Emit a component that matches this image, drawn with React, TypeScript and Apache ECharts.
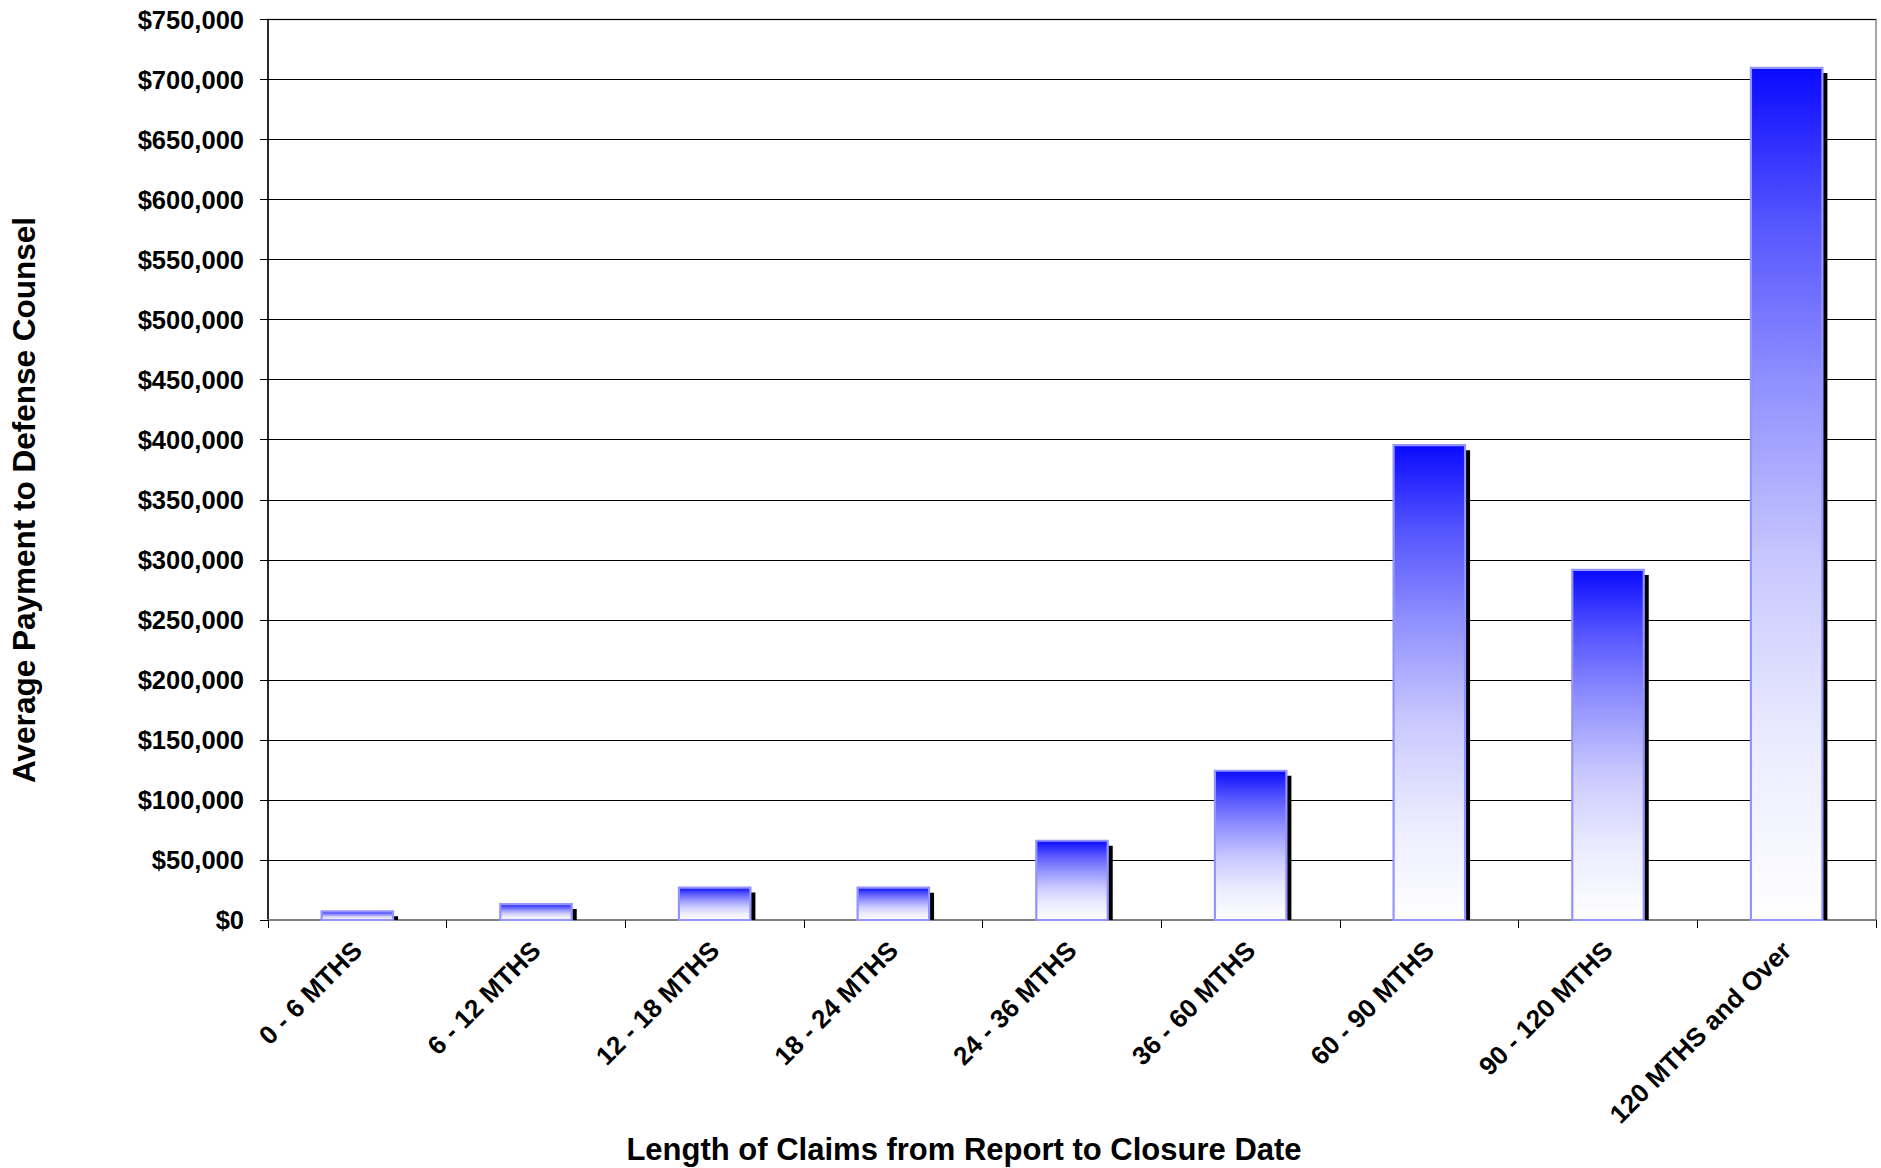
import React, { useEffect, useRef } from "react";
import * as echarts from "echarts";

const categories = [
  "0 - 6 MTHS",
  "6 - 12 MTHS",
  "12 - 18 MTHS",
  "18 - 24 MTHS",
  "24 - 36 MTHS",
  "36 - 60 MTHS",
  "60 - 90 MTHS",
  "90 - 120 MTHS",
  "120 MTHS and Over",
];
const payments = [7200, 13300, 27000, 26900, 66000, 124300, 395500, 291600, 709700];

const yMin = 0;
const yMax = 750000;
const yInterval = 50000;

const xTitle = "Length of Claims from Report to Closure Date";
const yTitle = "Average Payment to Defense Counsel";

const FONT = "'Liberation Sans', Arial, sans-serif";

export default function App() {
  const ref = useRef<HTMLDivElement>(null);
  useEffect(() => {
    if (!ref.current) return;
    const chart = echarts.init(ref.current, null, { renderer: "svg" });
    const gradient = () =>
      new echarts.graphic.LinearGradient(0, 0, 0, 1, [
        { offset: 0, color: "#0A0AFF" },
        { offset: 0.18, color: "#5555FF" },
        { offset: 0.37, color: "#9090FF" },
        { offset: 0.58, color: "#C8C8FF" },
        { offset: 0.79, color: "#EBEBFF" },
        { offset: 1, color: "#FFFFFF" },
      ]);
    chart.setOption({
      animation: false,
      backgroundColor: "#FFFFFF",
      grid: {
        left: 268,
        right: 5,
        top: 19.5,
        bottom: 248,
        show: true,
        borderColor: "#8A8A8A",
        borderWidth: 1.5,
        backgroundColor: "transparent",
      },
      xAxis: {
        type: "category",
        data: categories,
        axisLine: { show: true, lineStyle: { color: "#808080", width: 2 } },
        axisTick: { show: true, length: 8, lineStyle: { color: "#000", width: 1 } },
        axisLabel: {
          rotate: 45,
          interval: 0,
          margin: 26,
          color: "#000",
          fontFamily: FONT,
          fontWeight: "bold",
          fontSize: 26,
        },
        splitLine: { show: false },
      },
      yAxis: {
        type: "value",
        min: yMin,
        max: yMax,
        interval: yInterval,
        axisLine: { show: true, lineStyle: { color: "#000", width: 1.5 } },
        axisTick: { show: true, length: 8, lineStyle: { color: "#000", width: 1 } },
        axisLabel: {
          margin: 24,
          color: "#000",
          fontFamily: FONT,
          fontWeight: "bold",
          fontSize: 25.5,
          formatter: (v: number) => "$" + v.toLocaleString("en-US"),
        },
        splitLine: { show: true, lineStyle: { color: "#000", width: 1 } },
      },
      series: [
        {
          type: "custom",
          data: payments.map((v, i) => [i, v]),
          encode: { x: 0, y: 1 },
          renderItem: (params: any, api: any) => {
            const idx = api.value(0);
            const val = api.value(1);
            const top = api.coord([idx, val]);
            const base = api.coord([idx, 0]);
            const band = api.size([1, 0])[0];
            const w = band * 0.4;
            const x = top[0] - w / 2;
            const h = base[1] - top[1];
            return {
              type: "group",
              children: [
                {
                  type: "rect",
                  shape: { x: x + 5, y: top[1] + 5, width: w, height: Math.max(h - 5, 0) },
                  style: { fill: "#000000" },
                },
                {
                  type: "rect",
                  shape: { x, y: top[1], width: w, height: h },
                  style: { fill: gradient(), stroke: "#9494FF", lineWidth: 2.2 },
                },
              ],
            };
          },
        },
      ],
      graphic: [
        {
          type: "text",
          x: 964,
          y: 1149,
          style: {
            text: xTitle,
            fontFamily: FONT,
            fontWeight: "bold",
            fontSize: 31,
            fill: "#000",
            align: "center",
            verticalAlign: "middle",
          },
        },
        {
          type: "text",
          x: 24,
          y: 500,
          rotation: Math.PI / 2,
          style: {
            text: yTitle,
            fontFamily: FONT,
            fontWeight: "bold",
            fontSize: 31.5,
            fill: "#000",
            align: "center",
            verticalAlign: "middle",
          },
        },
      ],
    });
    return () => chart.dispose();
  }, []);
  return (
    <div
      ref={ref}
      style={{ position: "fixed", left: 0, top: 0, width: 1881, height: 1168, background: "#fff" }}
    />
  );
}
